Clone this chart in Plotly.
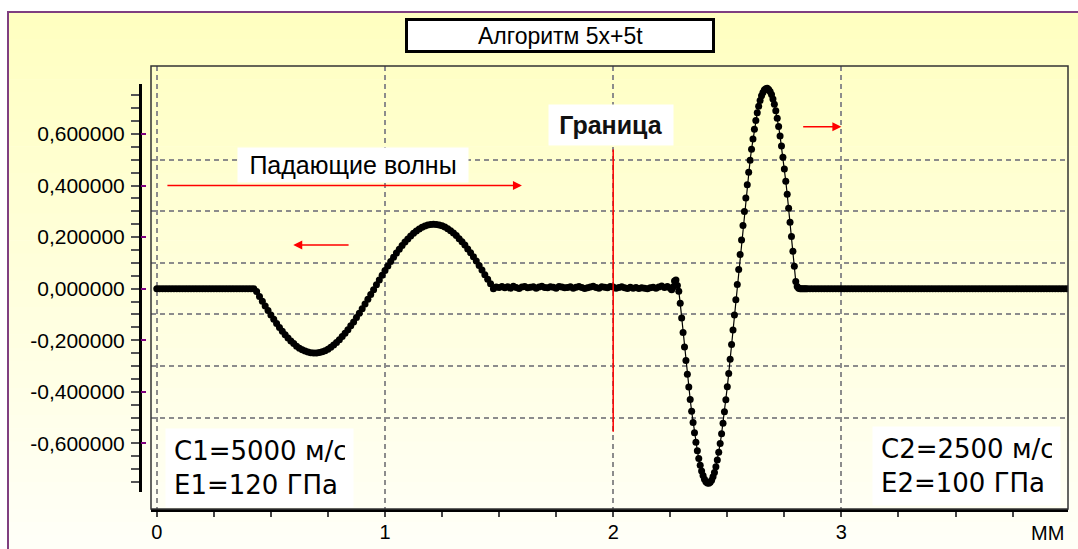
import plotly.graph_objects as go

# ---------------- data ----------------
# medium 1 part: x from 0 with step 0.0125 mm
x1_start, x1_step = 0.0, 0.0125
y_medium1 = (
    [0.0] * 35
    + [-0.011, -0.030, -0.049, -0.067, -0.085, -0.102, -0.119, -0.135, -0.151, -0.165,
       -0.179, -0.191, -0.203, -0.213, -0.223, -0.231, -0.237, -0.242, -0.246, -0.249,
       -0.250, -0.250, -0.248, -0.245, -0.241, -0.235, -0.227, -0.219, -0.209, -0.198,
       -0.186, -0.173, -0.159, -0.144, -0.129, -0.112, -0.095, -0.078, -0.060, -0.041,
       -0.023, -0.004]
    + [0.015, 0.034, 0.052, 0.070, 0.088, 0.105, 0.122, 0.138, 0.153, 0.167,
       0.181, 0.193, 0.204, 0.215, 0.224, 0.231, 0.238, 0.243, 0.247, 0.249,
       0.250, 0.249, 0.247, 0.244, 0.239, 0.232, 0.225, 0.216, 0.206, 0.194,
       0.182, 0.169, 0.154, 0.139, 0.124, 0.107, 0.090, 0.072, 0.054, 0.036,
       0.019, 0.000]
    + [0.006, 0.004, 0.008, 0.003, 0.007, 0.002, 0.009, 0.004, 0.001, 0.006,
       0.008, 0.003, 0.005, 0.007, 0.002, 0.006, 0.009, 0.004, 0.003, 0.007,
       0.005, 0.002, 0.008, 0.006, 0.003, 0.004, 0.007, 0.002, 0.005, 0.008,
       0.004, 0.001, 0.003, 0.006, 0.009, 0.004, 0.002, 0.007, 0.005, 0.003,
       0.008, 0.006, 0.002, 0.004, 0.007, 0.003, 0.001, 0.005, 0.002, 0.004,
       0.001, 0.003, 0.002, 0.000, 0.003, 0.005, 0.002, 0.006, 0.010, 0.004,
       0.008]
)

# transmitted pulse in medium 2: x from 2.25 with step 0.00625 mm
x2_start, x2_step = 2.25, 0.00625
y_medium2 = [
    0.002, -0.004, 0.006, 0.030, 0.034, 0.012, -0.010,
    -0.057, -0.114, -0.170, -0.226, -0.279, -0.332, -0.382, -0.430, -0.476, -0.519,
    -0.559, -0.596, -0.629, -0.659, -0.685, -0.707, -0.725, -0.739, -0.749, -0.754,
    -0.755, -0.751, -0.743, -0.730, -0.713, -0.691, -0.665, -0.635, -0.601, -0.563,
    -0.522, -0.478, -0.431, -0.381, -0.329, -0.274, -0.217, -0.160, -0.102, -0.043,
    0.016, 0.074, 0.132, 0.189, 0.245, 0.299, 0.352, 0.403, 0.452, 0.498,
    0.541, 0.581, 0.618, 0.652, 0.682, 0.708, 0.730, 0.748, 0.761, 0.771, 0.776,
    0.777, 0.773, 0.765, 0.753, 0.736, 0.715, 0.690, 0.661, 0.629, 0.592,
    0.553, 0.510, 0.464, 0.417, 0.366, 0.312, 0.258, 0.202, 0.145, 0.087,
    0.028, 0.008, 0.002, 0.0, 0.0, 0.0, 0.0, 0.0,
]

# quiet part of medium 2: x from 2.85 with step 0.0125 mm
x3_start, x3_step = 2.85, 0.0125
y_medium2_rest = [0.0] * 92

x_all, y_all = [], []
for start, step, ys in ((x1_start, x1_step, y_medium1),
                        (x2_start, x2_step, y_medium2),
                        (x3_start, x3_step, y_medium2_rest)):
    x_all += [start + step * i for i in range(len(ys))]
    y_all += ys

x_tick_vals = [0, 1, 2, 3]
x_tick_text = ["0", "1", "2", "3"]
y_tick_vals = [-0.6, -0.4, -0.2, 0.0, 0.2, 0.4, 0.6]
y_tick_text = ["-0,600000", "-0,400000", "-0,200000", "0,000000",
               "0,200000", "0,400000", "0,600000"]
y_grid_vals = [-0.5, -0.3, -0.1, 0.1, 0.3, 0.5]

boundary_x = 2.0
boundary_y = (-0.555, 0.54)
# arrows: (tail x, head x, y)
arrows = [(0.04, 1.6, 0.4), (0.847, 0.598, 0.169), (2.826, 3.0, 0.628)]

title_text = "Алгоритм 5x+5t"
label_incident = "Падающие волны"
label_boundary = "Граница"
label_medium1 = "C1=5000 м/с<br>E1=120 ГПа"
label_medium2 = "C2=2500 м/с<br>E2=100 ГПа"
unit_text = "ММ"

# ---------------- layout geometry ----------------
W, H = 1078, 549
ML, MR, MT, MB = 120, 10, 66, 40
IW, IH = W - ML - MR, H - MT - MB


def fx(px):
    return (px - ML) / IW


def fy(py):
    return (H - MB - py) / IH


X_RANGE = [-0.0254, 3.993]
Y_RANGE = [-0.8549, 0.8638]
Y2_RANGE = [-0.7878, 0.7940]
X_DOM = [fx(151), fx(1068)]
Y2_DOM = [fy(491.7), fy(84)]

FONT = "Liberation Sans, Arial, sans-serif"
GRID = dict(showgrid=True, gridcolor="#8c8c8c", gridwidth=1.5, griddash="5px,4px")

fig = go.Figure()
fig.add_trace(go.Scatter(
    x=x_all, y=y_all, mode="lines+markers",
    line=dict(color="black", width=1.2),
    marker=dict(color="black", size=7, line=dict(width=0)),
    hoverinfo="skip", showlegend=False))
fig.add_trace(go.Scatter(x=[0], y=[0], xaxis="x2", yaxis="y2", mode="markers",
                         marker=dict(opacity=0), hoverinfo="skip", showlegend=False))
fig.add_trace(go.Scatter(x=[0], y=[0], xaxis="x2", yaxis="y3", mode="markers",
                         marker=dict(opacity=0), hoverinfo="skip", showlegend=False))

shapes = []
# background gradient
N = 40
top_c, bot_c = (255, 255, 192), (255, 255, 248)
for i in range(N):
    p0 = 12 + i * (H - 12) / N
    p1 = 12 + (i + 1) * (H - 12) / N + 0.6
    t = (i + 0.5) / N
    c = tuple(round(a + (b - a) * t) for a, b in zip(top_c, bot_c))
    shapes.append(dict(type="rect", xref="paper", yref="paper", layer="below",
                       x0=fx(8), x1=fx(W + 2), y0=fy(p1), y1=fy(p0),
                       fillcolor="rgb(%d,%d,%d)" % c, line=dict(width=0)))
# purple outer frame
shapes.append(dict(type="line", xref="paper", yref="paper", layer="above",
                   x0=fx(8), x1=fx(8), y0=fy(11), y1=fy(H + 2),
                   line=dict(color="#7f3f80", width=2)))
shapes.append(dict(type="line", xref="paper", yref="paper", layer="above",
                   x0=fx(7), x1=fx(W + 2), y0=fy(12), y1=fy(12),
                   line=dict(color="#7f3f80", width=2)))
# plot border
shapes.append(dict(type="rect", xref="paper", yref="paper", layer="above",
                   x0=fx(151), x1=fx(1068), y0=fy(509), y1=fy(66),
                   line=dict(color="#333333", width=1.5)))
# title box
shapes.append(dict(type="rect", xref="paper", yref="paper", layer="above",
                   x0=fx(406.5), x1=fx(713.5), y0=fy(51.5), y1=fy(19.5),
                   fillcolor="white", line=dict(color="black", width=3)))
# boundary line
shapes.append(dict(type="line", xref="x", yref="y", layer="above",
                   x0=boundary_x, x1=boundary_x, y0=boundary_y[0], y1=boundary_y[1],
                   line=dict(color="red", width=1.5)))

annotations = [
    dict(xref="paper", yref="paper", x=fx(560), y=fy(35.5), text=title_text,
         showarrow=False, xanchor="center", yanchor="middle",
         font=dict(family=FONT, size=23, color="black")),
    dict(xref="x", yref="y", x=0.8597, y=0.4797, text=label_incident,
         showarrow=False, xanchor="center", yanchor="middle", bgcolor="white",
         width=230, height=34, borderpad=0,
         font=dict(family=FONT, size=25, color="black")),
    dict(xref="x", yref="y", x=1.99, y=0.635, text="<b>%s</b>" % label_boundary,
         showarrow=False, xanchor="center", yanchor="middle", bgcolor="white",
         width=124, height=40, borderpad=0,
         font=dict(family=FONT, size=25, color="#111111")),
    dict(xref="x", yref="y", x=0.45, y=-0.6963, text=label_medium1, align="left",
         showarrow=False, xanchor="center", yanchor="middle", bgcolor="white",
         width=171, height=62, borderpad=8,
         font=dict(family="DejaVu Sans, sans-serif", size=26, color="black")),
    dict(xref="x", yref="y", x=3.548, y=-0.688, text=label_medium2, align="left",
         showarrow=False, xanchor="center", yanchor="middle", bgcolor="white",
         width=171, height=62, borderpad=8,
         font=dict(family="DejaVu Sans, sans-serif", size=26, color="black")),
    dict(xref="paper", yref="paper", x=fx(1066), y=fy(533), text=unit_text,
         showarrow=False, xanchor="right", yanchor="middle",
         font=dict(family=FONT, size=20, color="black")),
]
for tail, head, yv in arrows:
    annotations.append(dict(xref="x", yref="y", axref="x", ayref="y",
                            x=head, y=yv, ax=tail, ay=yv, text="",
                            showarrow=True, arrowhead=2, arrowsize=1.2,
                            arrowwidth=1.5, arrowcolor="red", standoff=0))

fig.update_layout(
    width=W, height=H, autosize=False,
    margin=dict(l=ML, r=MR, t=MT, b=MB, pad=0),
    paper_bgcolor="white", plot_bgcolor="rgba(0,0,0,0)",
    showlegend=False,
    xaxis=dict(domain=X_DOM, range=X_RANGE, anchor="y", automargin=False,
               tickvals=x_tick_vals, ticktext=x_tick_text, **GRID,
               zeroline=False, showline=True, linecolor="black", linewidth=3,
               ticks="outside", ticklen=5, tickwidth=1.5, tickcolor="#444444",
               minor=dict(dtick=0.25, tick0=0, ticks="outside", ticklen=5,
                          tickwidth=1.5, tickcolor="#444444", showgrid=False),
               tickfont=dict(family=FONT, size=20, color="black"),
               ticklabelstandoff=-2),
    yaxis=dict(domain=[0, 1], range=Y_RANGE, anchor="x", automargin=False,
               tickvals=y_grid_vals, showticklabels=False, ticks="", **GRID,
               zeroline=False, showline=False),
    xaxis2=dict(domain=X_DOM, range=X_RANGE, anchor="y2", visible=False,
                automargin=False),
    yaxis2=dict(domain=Y2_DOM, range=Y2_RANGE, anchor="free", position=fx(140),
                automargin=False,
                side="left", showline=True, linecolor="black", linewidth=3,
                ticks="outside", ticklen=8, tickwidth=1.5, tickcolor="#555555",
                tickvals=y_tick_vals, ticktext=y_tick_text,
                minor=dict(dtick=0.05, tick0=0, ticks="outside", ticklen=8,
                           tickwidth=1.5, tickcolor="#555555", showgrid=False),
                showgrid=False, zeroline=False,
                tickfont=dict(family=FONT, size=21, color="black"),
                ticklabelstandoff=2),
    yaxis3=dict(domain=Y2_DOM, range=Y2_RANGE, anchor="free", position=fx(146),
                automargin=False,
                side="left", showline=False, ticks="outside", ticklen=5,
                tickwidth=2, tickcolor="#800080", tickvals=y_tick_vals,
                showticklabels=False, showgrid=False, zeroline=False),
    shapes=shapes, annotations=annotations,
)

fig.write_html("out.html", config=dict(displayModeBar=False))
